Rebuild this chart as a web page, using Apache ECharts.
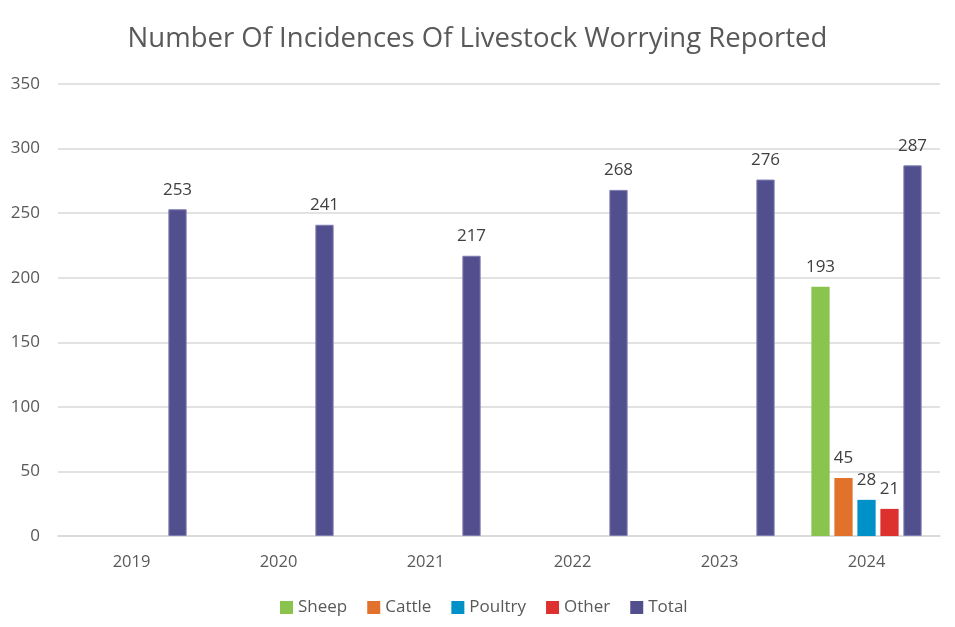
<!DOCTYPE html>
<html><head><meta charset="utf-8">
<script src="https://cdn.jsdelivr.net/npm/echarts@6/dist/echarts.min.js"></script>
<style>html,body{margin:0;padding:0;background:#fff}#c{width:955px;height:627px}</style>
</head><body><div id="c"></div>
<script>
const categories = ['2019','2020','2021','2022','2023','2024'];
const sheep   = [null,null,null,null,null,193];
const cattle  = [null,null,null,null,null,45];
const poultry = [null,null,null,null,null,28];
const other   = [null,null,null,null,null,21];
const total   = [253,241,217,268,276,287];
const yTicks = [0,50,100,150,200,250,300,350];

const FONT = '"Open Sans", "Noto Sans", sans-serif';
const chart = echarts.init(document.getElementById('c'));
function s(name, data, color, border){
  return {
    name, type:'bar', data, barGap:'26%', barCategoryGap:'25%',
    itemStyle:{color, borderColor: border||color, borderWidth: border?1:0},
    label:{show:true, position:'top', distance:11, color:'#404040', fontSize:17, fontFamily:FONT}
  };
}
chart.setOption({
  animation:false,
  title:{text:'Number Of Incidences Of Livestock Worrying Reported', left:'center', top:20,
    textStyle:{fontFamily:FONT, fontSize:27.5, fontWeight:'normal', color:'#595959'}},
  grid:{left:58, right:15, top:84, bottom:91, containLabel:false},
  legend:{bottom:6, left:275, itemWidth:13, itemHeight:13, itemGap:20, icon:'rect',
    textStyle:{fontFamily:FONT, fontSize:17, color:'#595959'},
    data:['Sheep','Cattle','Poultry','Other',{name:'Total', itemStyle:{borderWidth:0}}]},
  xAxis:{type:'category', data:categories,
    axisLine:{lineStyle:{color:'#d9d9d9', width:1.5}}, axisTick:{show:false},
    axisLabel:{fontFamily:FONT, fontSize:16.5, color:'#595959', margin:18}},
  yAxis:{type:'value', min:yTicks[0], max:yTicks[yTicks.length-1], interval:50,
    axisLine:{show:false}, axisTick:{show:false},
    splitLine:{lineStyle:{color:'#d9d9d9', width:1.5}},
    axisLabel:{fontFamily:FONT, fontSize:17, color:'#595959', margin:18}},
  series:[
    s('Sheep', sheep, '#8BC34F'),
    s('Cattle', cattle, '#E2712B'),
    s('Poultry', poultry, '#0091C9'),
    s('Other', other, '#DC312E'),
    s('Total', total, '#524F8F', '#7F7CB0')
  ]
});
</script></body></html>
